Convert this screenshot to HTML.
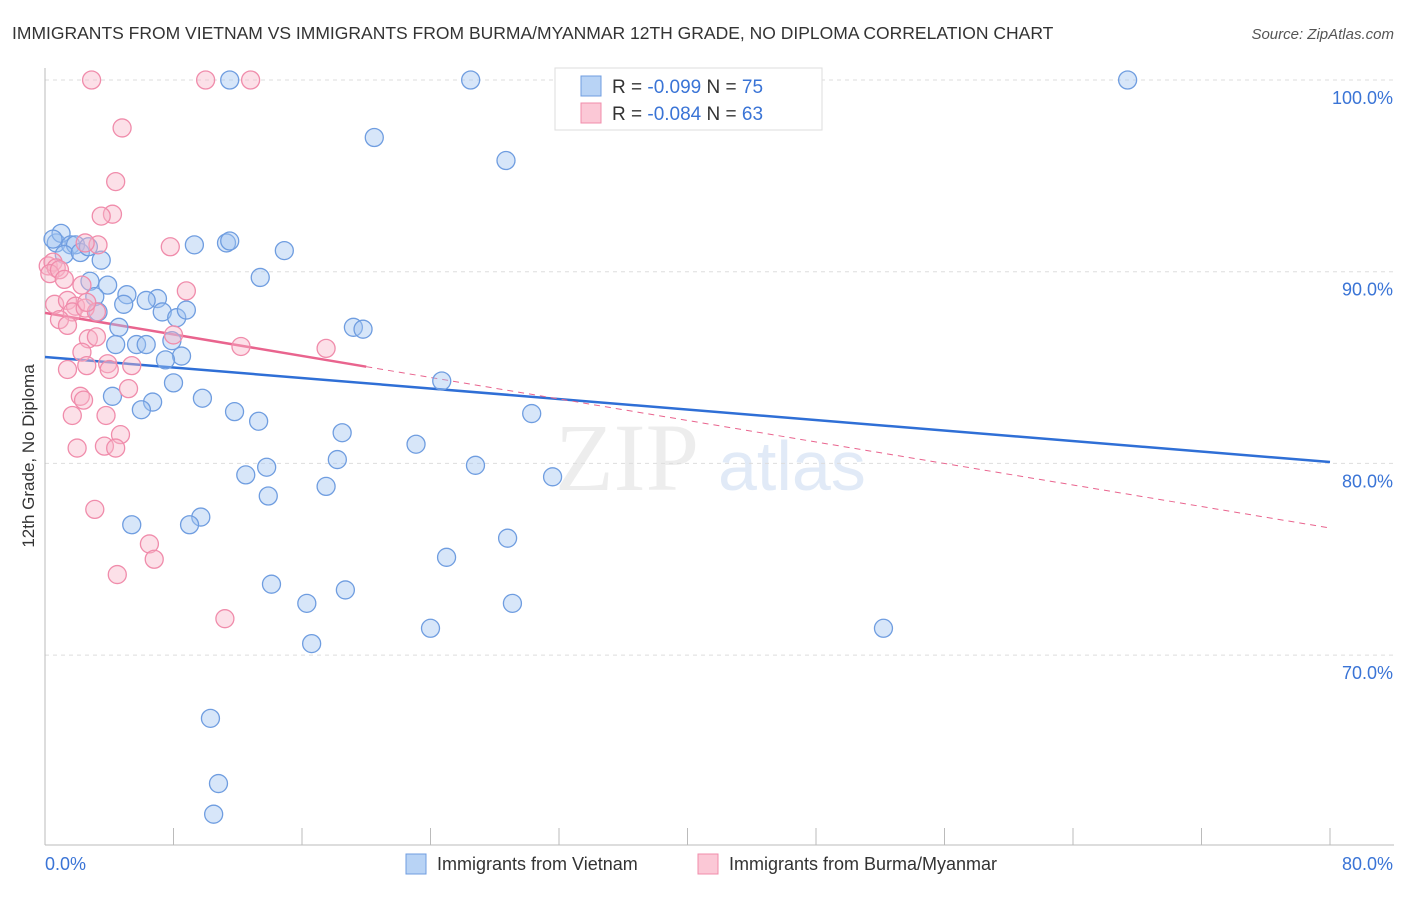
<!DOCTYPE html>
<html><head><meta charset="utf-8"><style>
body{margin:0;background:#fff;font-family:"Liberation Sans",sans-serif}
</style></head><body>
<svg id="chart" width="1406" height="892" xmlns="http://www.w3.org/2000/svg" style="font-family:'Liberation Sans',sans-serif">
<text x="12" y="39" font-size="17.5" fill="#333">IMMIGRANTS FROM VIETNAM VS IMMIGRANTS FROM BURMA/MYANMAR 12TH GRADE, NO DIPLOMA CORRELATION CHART</text>
<text x="1394" y="39" font-size="15" fill="#555" text-anchor="end" font-style="italic">Source: ZipAtlas.com</text>
<g opacity="0.25">
<text x="555" y="490" font-size="96" font-family="'Liberation Serif',serif" fill="#bbb">ZIP</text>
<text x="718" y="490" font-size="70" fill="#8ab0e0">atlas</text>
</g>
<g id="grid"></g><g id="axes"></g><g id="trend"></g><g id="pts"></g>
<text transform="translate(34,456) rotate(-90)" font-size="17" fill="#333" text-anchor="middle">12th Grade, No Diploma</text>
<g>
<rect x="555" y="68" width="267" height="62" fill="#fff" stroke="#ddd"/>
<rect x="581" y="76" width="20" height="20" fill="#b8d3f5" stroke="#6f9de0"/>
<rect x="581" y="103" width="20" height="20" fill="#fbc8d6" stroke="#f08cab"/>
<text x="612" y="93" font-size="19" fill="#333">R = <tspan fill="#3a74d6">-0.099</tspan>   N = <tspan fill="#3a74d6">75</tspan></text>
<text x="612" y="120" font-size="19" fill="#333">R = <tspan fill="#3a74d6">-0.084</tspan>   N = <tspan fill="#3a74d6">63</tspan></text>
</g>
<g>
<rect x="406" y="854" width="20" height="20" fill="#b8d3f5" stroke="#6f9de0"/>
<text x="437" y="870" font-size="18" fill="#333">Immigrants from Vietnam</text>
<rect x="698" y="854" width="20" height="20" fill="#fbc8d6" stroke="#f08cab"/>
<text x="729" y="870" font-size="18" fill="#333">Immigrants from Burma/Myanmar</text>
</g>
</svg>
<script>
const yTicks=[100,90,80,70];
const yTickLabels=["100.0%","90.0%","80.0%","70.0%"];
const xTickLabels=["0.0%","80.0%"];
const vietX=[11.5,26.5,67.4,43.2,20.5,28.7,0.7,1.0,0.5,1.6,1.9,1.2,2.2,3.5,11.3,11.5,9.3,14.9,13.4,2.8,3.9,5.1,7.0,6.3,4.9,3.1,3.3,7.3,8.2,8.8,4.6,4.4,5.7,6.3,7.9,8.5,7.5,19.2,19.8,24.7,8.0,9.8,6.7,6.0,4.2,11.8,13.3,30.3,18.5,23.1,18.2,26.8,13.8,12.5,31.6,13.9,17.5,5.4,9.7,9.0,28.8,25.0,14.1,18.7,16.3,29.1,24.0,52.2,16.6,10.3,10.8,10.5,2.7];
const vietY=[100,100,100,100,97.0,95.8,91.5,92.0,91.7,91.4,91.4,90.9,91.0,90.6,91.5,91.6,91.4,91.1,89.7,89.5,89.3,88.8,88.6,88.5,88.3,88.7,87.9,87.9,87.6,88.0,87.1,86.2,86.2,86.2,86.4,85.6,85.4,87.1,87.0,84.3,84.2,83.4,83.2,82.8,83.5,82.7,82.2,82.6,81.6,81.0,80.2,79.9,79.8,79.4,79.3,78.3,78.8,76.8,77.2,76.8,76.1,75.1,73.7,73.4,72.7,72.7,71.4,71.4,70.6,66.7,63.3,61.7,91.3];
const burmaX=[2.9,10.0,12.8,4.8,4.4,4.2,3.5,7.8,3.3,2.5,0.2,0.5,0.7,0.3,0.9,1.2,8.8,0.6,1.4,1.9,1.7,2.3,2.5,0.9,1.4,3.2,8.0,2.7,3.2,12.2,17.5,2.3,1.4,2.6,3.9,5.4,4.0,2.2,2.4,5.2,3.8,1.7,4.7,2.0,3.7,4.4,3.1,6.5,6.8,4.5,11.2,2.6];
const burmaY=[100,100,100,97.5,94.7,93.0,92.9,91.3,91.4,91.5,90.3,90.5,90.2,89.9,90.1,89.6,89.0,88.3,88.5,88.2,87.9,89.3,88.1,87.5,87.2,87.9,86.7,86.5,86.6,86.1,86.0,85.8,84.9,85.1,85.2,85.1,84.9,83.5,83.3,83.9,82.5,82.5,81.5,80.8,80.9,80.8,77.6,75.8,75.0,74.2,71.9,88.4];
const trendVietnam=[85.55,80.07];
const trendBurma=[87.85,76.63];
const burmaSolidEnd=20;

const NS="http://www.w3.org/2000/svg";
const sx=v=>45+v*(1330-45)/80;
const sy=v=>80+(100-v)*19.17;
function mk(tag,attrs,parent){const e=document.createElementNS(NS,tag);for(const k in attrs)e.setAttribute(k,attrs[k]);document.getElementById(parent).appendChild(e);return e;}
yTicks.forEach((t,i)=>{
  const l=mk('line',{x1:45,x2:1394,y1:sy(t),y2:sy(t),stroke:'#ddd','stroke-dasharray':'4,4'},'grid');
  
  
  const tx=mk('text',{x:1393,y:sy(t)+24,'font-size':18,fill:'#3a74d6','text-anchor':'end'},'grid');
  tx.textContent=yTickLabels[i];
  
  
});
const ya=mk('line',{x1:45,x2:45,y1:68,y2:845,stroke:'#bbb'},'axes');


const xa=mk('line',{x1:45,x2:1394,y1:845,y2:845,stroke:'#bbb'},'axes');


for(let i=0;i<=10;i++){const x=45+i*128.5;const tk=mk('line',{x1:x,x2:x,y1:828,y2:845,stroke:'#bbb'},'axes');

}
[[0,45,'start'],[80,1393,'end']].forEach((d,i)=>{const t=mk('text',{x:d[1],y:870,'font-size':18,fill:'#3a74d6','text-anchor':d[2]},'axes');t.textContent=xTickLabels[i];

});
function ty(tr,x){return tr[0]+(tr[1]-tr[0])*x/80;}
const bl=mk('line',{x1:sx(0),y1:sy(ty(trendVietnam,0)),x2:sx(80),y2:sy(ty(trendVietnam,80)),stroke:'#2f6fd6','stroke-width':2.5},'trend');


const pl=mk('line',{x1:sx(0),y1:sy(ty(trendBurma,0)),x2:sx(burmaSolidEnd),y2:sy(ty(trendBurma,burmaSolidEnd)),stroke:'#e9648e','stroke-width':2.5},'trend');


const pd=mk('line',{x1:sx(burmaSolidEnd),y1:sy(ty(trendBurma,burmaSolidEnd)),x2:sx(80),y2:sy(ty(trendBurma,80)),stroke:'#e9648e','stroke-width':1,'stroke-dasharray':'6,5'},'trend');


vietX.forEach((x,i)=>{const c=mk('circle',{cx:sx(x),cy:sy(vietY[i]),r:9,fill:'rgba(160,196,240,0.42)',stroke:'#6f9de0','stroke-width':1.3},'pts');

});
burmaX.forEach((x,i)=>{const c=mk('circle',{cx:sx(x),cy:sy(burmaY[i]),r:9,fill:'rgba(248,180,200,0.42)',stroke:'#f08cab','stroke-width':1.3},'pts');

});
</script>
</body></html>
